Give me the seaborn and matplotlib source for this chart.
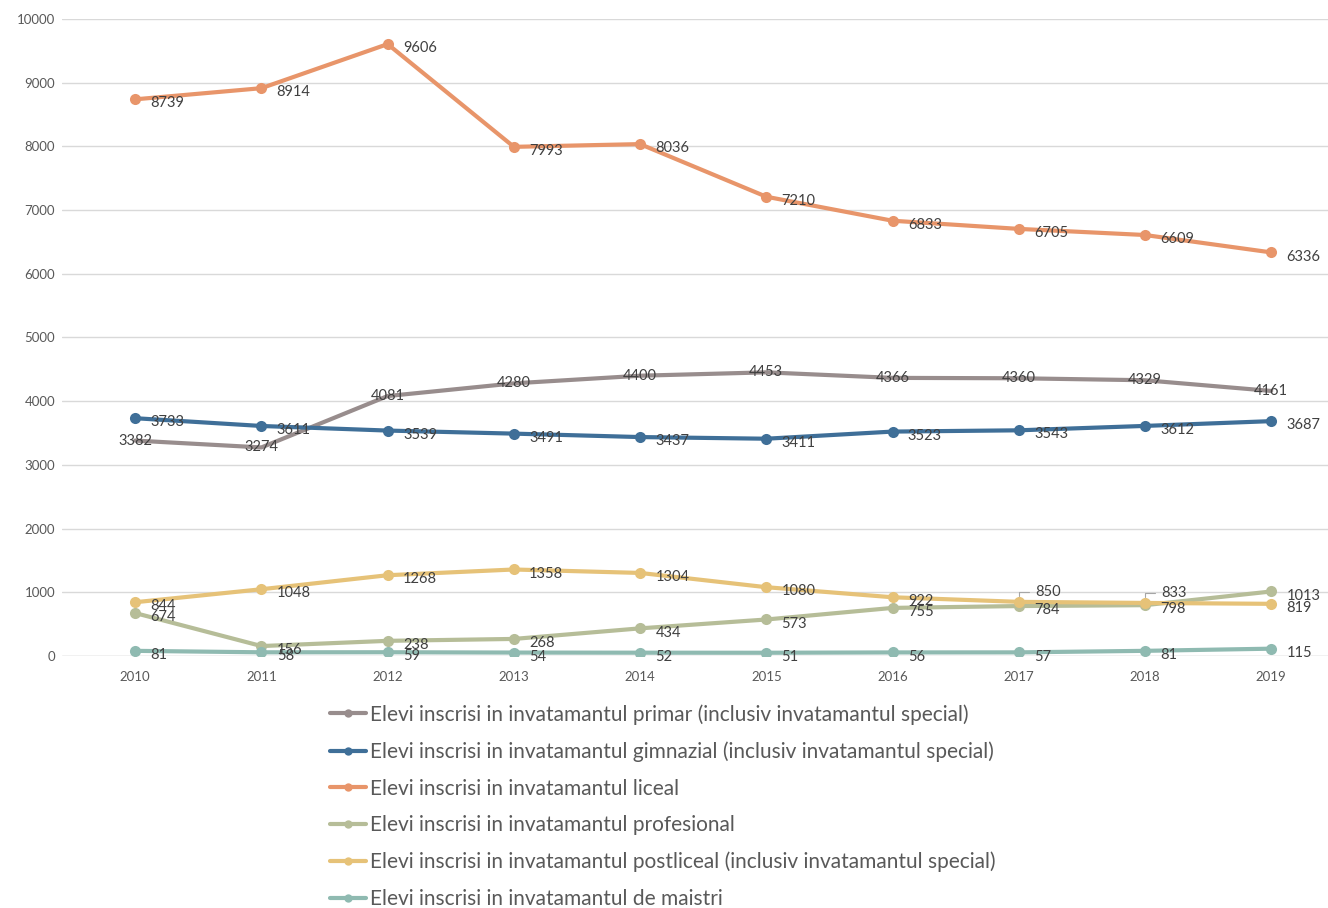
import numpy as np
import pandas as pd
import matplotlib
matplotlib.use('Agg')
import matplotlib.pyplot as plt
from matplotlib.lines import Line2D
import seaborn as sns

years = ['2010', '2011', '2012', '2013', '2014', '2015', '2016', '2017', '2018', '2019']

primar = [3382, 3274, 4081, 4280, 4400, 4453, 4366, 4360, 4329, 4161]
gimnazial = [3733, 3611, 3539, 3491, 3437, 3411, 3523, 3543, 3612, 3687]
liceal = [8739, 8914, 9606, 7993, 8036, 7210, 6833, 6705, 6609, 6336]
profesional = [674, 156, 238, 268, 434, 573, 755, 784, 798, 1013]
postliceal = [844, 1048, 1268, 1358, 1304, 1080, 922, 850, 833, 819]
maistri = [81, 58, 59, 54, 52, 51, 56, 57, 81, 115]

names = [
    'Elevi inscrisi in invatamantul primar (inclusiv invatamantul special)',
    'Elevi inscrisi in invatamantul gimnazial (inclusiv invatamantul special)',
    'Elevi inscrisi in invatamantul liceal',
    'Elevi inscrisi in invatamantul profesional',
    'Elevi inscrisi in invatamantul postliceal (inclusiv invatamantul special)',
    'Elevi inscrisi in invatamantul de maistri',
]
series = [primar, gimnazial, liceal, profesional, postliceal, maistri]
colors = ['#988d8d', '#3f6f98', '#e8956a', '#b6bd98', '#e6c278', '#8fbab1']

sns.set_theme(style='white')
plt.rcParams['font.family'] = ['Lato', 'DejaVu Sans']

fig = plt.figure(figsize=(13.28, 9.08), dpi=100)
ax = fig.add_axes([62 / 1328, (908 - 656) / 908, (1328 - 62) / 1328, (656 - 19) / 908])

x = np.arange(len(years))
label_color = '#404040'

# draw back to front so the small series sit on top
for i in [2, 0, 1, 3, 4, 5]:
    vals = series[i]
    if i == 0:
        sns.lineplot(x=x, y=vals, color=colors[i], linewidth=3, ax=ax, zorder=3)
    else:
        sns.lineplot(x=x, y=vals, color=colors[i], linewidth=3, marker='o',
                     markersize=8, markeredgewidth=0, ax=ax, zorder=3)

# data labels
for i, vals in enumerate(series):
    for j, v in enumerate(vals):
        if i == 0:
            ax.annotate(str(v), (j, v), ha='center', va='center', fontsize=10.5,
                        color=label_color, zorder=5)
        elif i == 4 and j in (7, 8):
            ax.annotate(str(v), (j, v), xytext=(j + 0.13, v + 160), ha='left', va='center',
                        fontsize=10.5, color=label_color, zorder=5,
                        arrowprops=dict(arrowstyle='-', color='#a6a6a6', lw=0.8,
                                        connectionstyle='angle,angleA=0,angleB=90,rad=0',
                                        shrinkA=2, shrinkB=4))
        else:
            ax.annotate(str(v), (j, v), xytext=(11, -3), textcoords='offset points',
                        ha='left', va='center', fontsize=10.5, color=label_color, zorder=5)

ax.set_xlim(-0.58, 9.45)
ax.set_ylim(0, 10000)
ax.set_yticks(range(0, 10001, 1000))
ax.set_xticks(x)
ax.set_xticklabels(years)
ax.tick_params(axis='both', length=0, labelsize=9.5, colors='#595959')
ax.tick_params(axis='x', pad=11)
ax.tick_params(axis='y', pad=5)
ax.grid(axis='y', color='#d9d9d9', linewidth=1)
for s in ax.spines.values():
    s.set_visible(False)
ax.axhline(0, color='#d9d9d9', linewidth=1, zorder=1)

handles = [Line2D([0], [0], color=c, linewidth=3, marker='o', markersize=6, markeredgewidth=0)
           for c in colors]
fig.legend(handles, names, loc='upper left', bbox_to_anchor=(330 / 1328, 1 - 704 / 908),
           frameon=False, fontsize=15, labelcolor='#595959', handlelength=1.75,
           handletextpad=0.15, labelspacing=0.8, borderaxespad=0, borderpad=0)

fig.savefig('out.png', dpi=100)
